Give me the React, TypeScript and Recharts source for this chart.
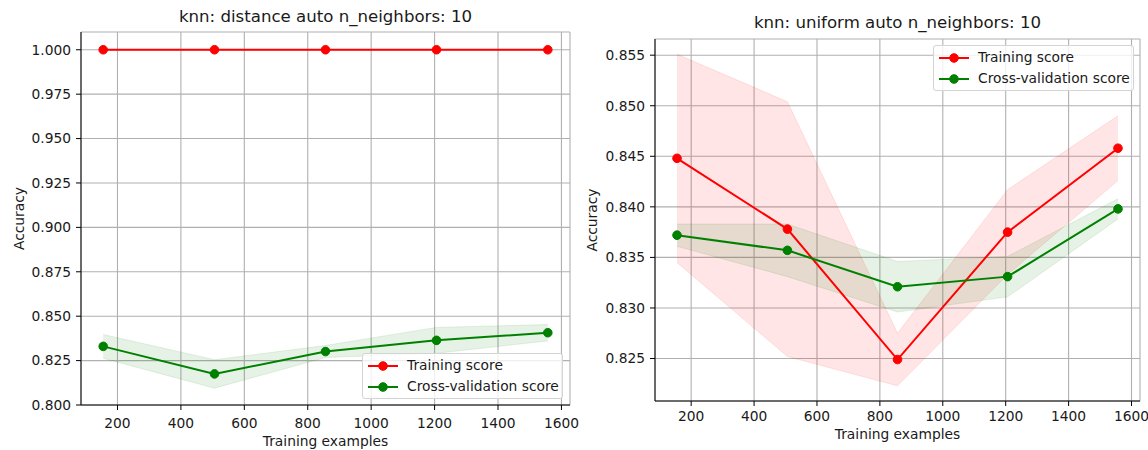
import React from 'react';
import { ComposedChart, Line, Area, XAxis, YAxis, CartesianGrid, Label } from 'recharts';

const trainSizes = [155, 506, 856, 1206, 1557];
const xTicks = [200, 400, 600, 800, 1000, 1200, 1400, 1600];

const distTrainMean = [1.0, 1.0, 1.0, 1.0, 1.0];
const distTrainStd = [0, 0, 0, 0, 0];
const distCvMean = [0.833, 0.8175, 0.8301, 0.8364, 0.8407];
const distCvStd = [0.0067, 0.008, 0.0034, 0.0073, 0.0046];
const distYTicks = [0.8, 0.825, 0.85, 0.875, 0.9, 0.925, 0.95, 0.975, 1.0];

const uniTrainMean = [0.8448, 0.8378, 0.8249, 0.8375, 0.8458];
const uniTrainStd = [0.0103, 0.0126, 0.0026, 0.0042, 0.0032];
const uniCvMean = [0.8372, 0.8357, 0.8321, 0.8331, 0.8398];
const uniCvStd = [0.0011, 0.0026, 0.0025, 0.002, 0.001];
const uniYTicks = [0.825, 0.83, 0.835, 0.84, 0.845, 0.85, 0.855];

const FONT = '"DejaVu Sans", sans-serif';
const TXT = '#1a1a1a';
const FS = 13.8;

function buildRows(tm: number[], ts: number[], cm: number[], cs: number[]) {
  return trainSizes.map((x, i) => ({
    x,
    train: tm[i],
    trainBand: [tm[i] - ts[i], tm[i] + ts[i]],
    cv: cm[i],
    cvBand: [cm[i] - cs[i], cm[i] + cs[i]],
  }));
}

function LegendBox({ left, top }: { left: number; top: number }) {
  const item = (color: string, text: string) => (
    <div style={{ display: 'flex', alignItems: 'center', height: 21 }}>
      <svg width={32} height={12} style={{ marginRight: 8, flex: 'none' }}>
        <line x1={1} y1={6} x2={31} y2={6} stroke={color} strokeWidth={2} />
        <circle cx={16} cy={6} r={4.3} fill={color} stroke={color} strokeWidth={1} />
      </svg>
      <span style={{ whiteSpace: 'nowrap' }}>{text}</span>
    </div>
  );
  return (
    <div
      style={{
        position: 'absolute',
        left,
        top,
        width: 195,
        height: 43,
        border: '1px solid #d4d4d4',
        borderRadius: 3,
        background: 'rgba(255,255,255,0.8)',
        boxSizing: 'content-box',
        padding: '1px 0 0 4px',
        fontFamily: FONT,
        fontSize: FS,
        color: TXT,
        lineHeight: '21px',
      }}
    >
      {item('#ff0000', 'Training score')}
      {item('#008000', 'Cross-validation score')}
    </div>
  );
}

type PanelProps = {
  left: number;
  width: number;
  title: string;
  titleY: number;
  rows: any[];
  yDomain: [number, number];
  yTicks: number[];
  margin: { top: number; right: number; bottom: number; left: number };
  yAxisWidth: number;
  xTickMargin: number;
  xLabelDy: number;
  yLabelX: number;
  legend: { left: number; top: number };
};

function Panel(p: PanelProps) {
  const height = 450;
  const plotLeft = p.margin.left + p.yAxisWidth;
  const plotRight = p.width - p.margin.right;
  const tickStyle = { fontFamily: FONT, fontSize: FS, fill: TXT };
  return (
    <div style={{ position: 'absolute', left: p.left, top: 0, width: p.width, height }}>
      <div
        style={{
          position: 'absolute',
          left: plotLeft,
          width: plotRight - plotLeft,
          top: p.titleY - 10,
          textAlign: 'center',
          fontFamily: FONT,
          fontSize: 16.6,
          color: TXT,
          lineHeight: '20px',
          whiteSpace: 'nowrap',
        }}
      >
        {p.title}
      </div>
      <ComposedChart width={p.width} height={height} data={p.rows} margin={p.margin}>
        <CartesianGrid stroke="#b0b0b0" strokeWidth={1.1} />
        <XAxis
          dataKey="x"
          type="number"
          domain={[85, 1627]}
          ticks={xTicks}
          allowDataOverflow
          height={30}
          tickSize={5}
          tickMargin={p.xTickMargin}
          tick={tickStyle}
          stroke="#000"
          tickLine={{ stroke: '#000' }}
          axisLine={{ stroke: '#000' }}
        >
          <Label
            content={(lp: any) => {
              const vb = lp.viewBox || {};
              return (
                <text
                  x={vb.x + vb.width / 2}
                  y={vb.y + p.xLabelDy}
                  textAnchor="middle"
                  fontFamily={FONT}
                  fontSize={FS}
                  fill={TXT}
                >
                  Training examples
                </text>
              );
            }}
          />
        </XAxis>
        <XAxis
          xAxisId="top"
          orientation="top"
          dataKey="x"
          type="number"
          domain={[85, 1627]}
          allowDataOverflow
          height={0}
          tick={false}
          tickLine={false}
          axisLine={{ stroke: '#000' }}
        />
        <YAxis
          type="number"
          domain={p.yDomain}
          ticks={p.yTicks}
          allowDataOverflow
          width={p.yAxisWidth}
          tickSize={5}
          tickMargin={5}
          tick={tickStyle}
          tickFormatter={(v: number) => v.toFixed(3)}
          stroke="#000"
          tickLine={{ stroke: '#000' }}
          axisLine={{ stroke: '#000' }}
        >
          <Label
            content={(lp: any) => {
              const vb = lp.viewBox || {};
              const cy = vb.y + vb.height / 2;
              return (
                <text
                  x={p.yLabelX}
                  y={cy}
                  transform={`rotate(-90 ${p.yLabelX} ${cy})`}
                  textAnchor="middle"
                  dominantBaseline="central"
                  fontFamily={FONT}
                  fontSize={FS}
                  fill={TXT}
                >
                  Accuracy
                </text>
              );
            }}
          />
        </YAxis>
        <YAxis
          yAxisId="right"
          orientation="right"
          type="number"
          domain={p.yDomain}
          allowDataOverflow
          width={0}
          tick={false}
          tickLine={false}
          axisLine={{ stroke: '#000' }}
        />
        <Area
          dataKey="trainBand"
          type="linear"
          stroke="#ff0000"
          strokeOpacity={0.1}
          fill="#ff0000"
          fillOpacity={0.1}
          isAnimationActive={false}
          activeDot={false}
          dot={false}
        />
        <Area
          dataKey="cvBand"
          type="linear"
          stroke="#008000"
          strokeOpacity={0.1}
          fill="#008000"
          fillOpacity={0.1}
          isAnimationActive={false}
          activeDot={false}
          dot={false}
        />
        <Line
          dataKey="train"
          type="linear"
          stroke="#ff0000"
          strokeWidth={2}
          dot={{ r: 4.3, fill: '#ff0000', stroke: '#ff0000', strokeWidth: 1 }}
          activeDot={false}
          isAnimationActive={false}
        />
        <Line
          dataKey="cv"
          type="linear"
          stroke="#008000"
          strokeWidth={2}
          dot={{ r: 4.3, fill: '#008000', stroke: '#008000', strokeWidth: 1 }}
          activeDot={false}
          isAnimationActive={false}
        />
      </ComposedChart>
      <LegendBox left={p.legend.left} top={p.legend.top} />
    </div>
  );
}

export default function App() {
  const distRows = buildRows(distTrainMean, distTrainStd, distCvMean, distCvStd);
  const uniRows = buildRows(uniTrainMean, uniTrainStd, uniCvMean, uniCvStd);
  return (
    <div
      style={{
        position: 'absolute',
        left: 0,
        top: 0,
        width: 1148,
        height: 450,
        background: '#fff',
        overflow: 'hidden',
      }}
    >
      <Panel
        left={0}
        width={580}
        title="knn: distance auto n_neighbors: 10"
        titleY={17}
        rows={distRows}
        yDomain={[0.8, 1.01]}
        yTicks={distYTicks}
        margin={{ top: 32, right: 10, bottom: 15, left: 0 }}
        yAxisWidth={81}
        xTickMargin={8}
        xLabelDy={41}
        yLabelX={19}
        legend={{ left: 362, top: 353 }}
      />
      <Panel
        left={580}
        width={568}
        title="knn: uniform auto n_neighbors: 10"
        titleY={23}
        rows={uniRows}
        yDomain={[0.8208, 0.8566]}
        yTicks={uniYTicks}
        margin={{ top: 39, right: 8, bottom: 19, left: 0 }}
        yAxisWidth={75}
        xTickMargin={5}
        xLabelDy={38}
        yLabelX={12}
        legend={{ left: 353, top: 45 }}
      />
    </div>
  );
}
